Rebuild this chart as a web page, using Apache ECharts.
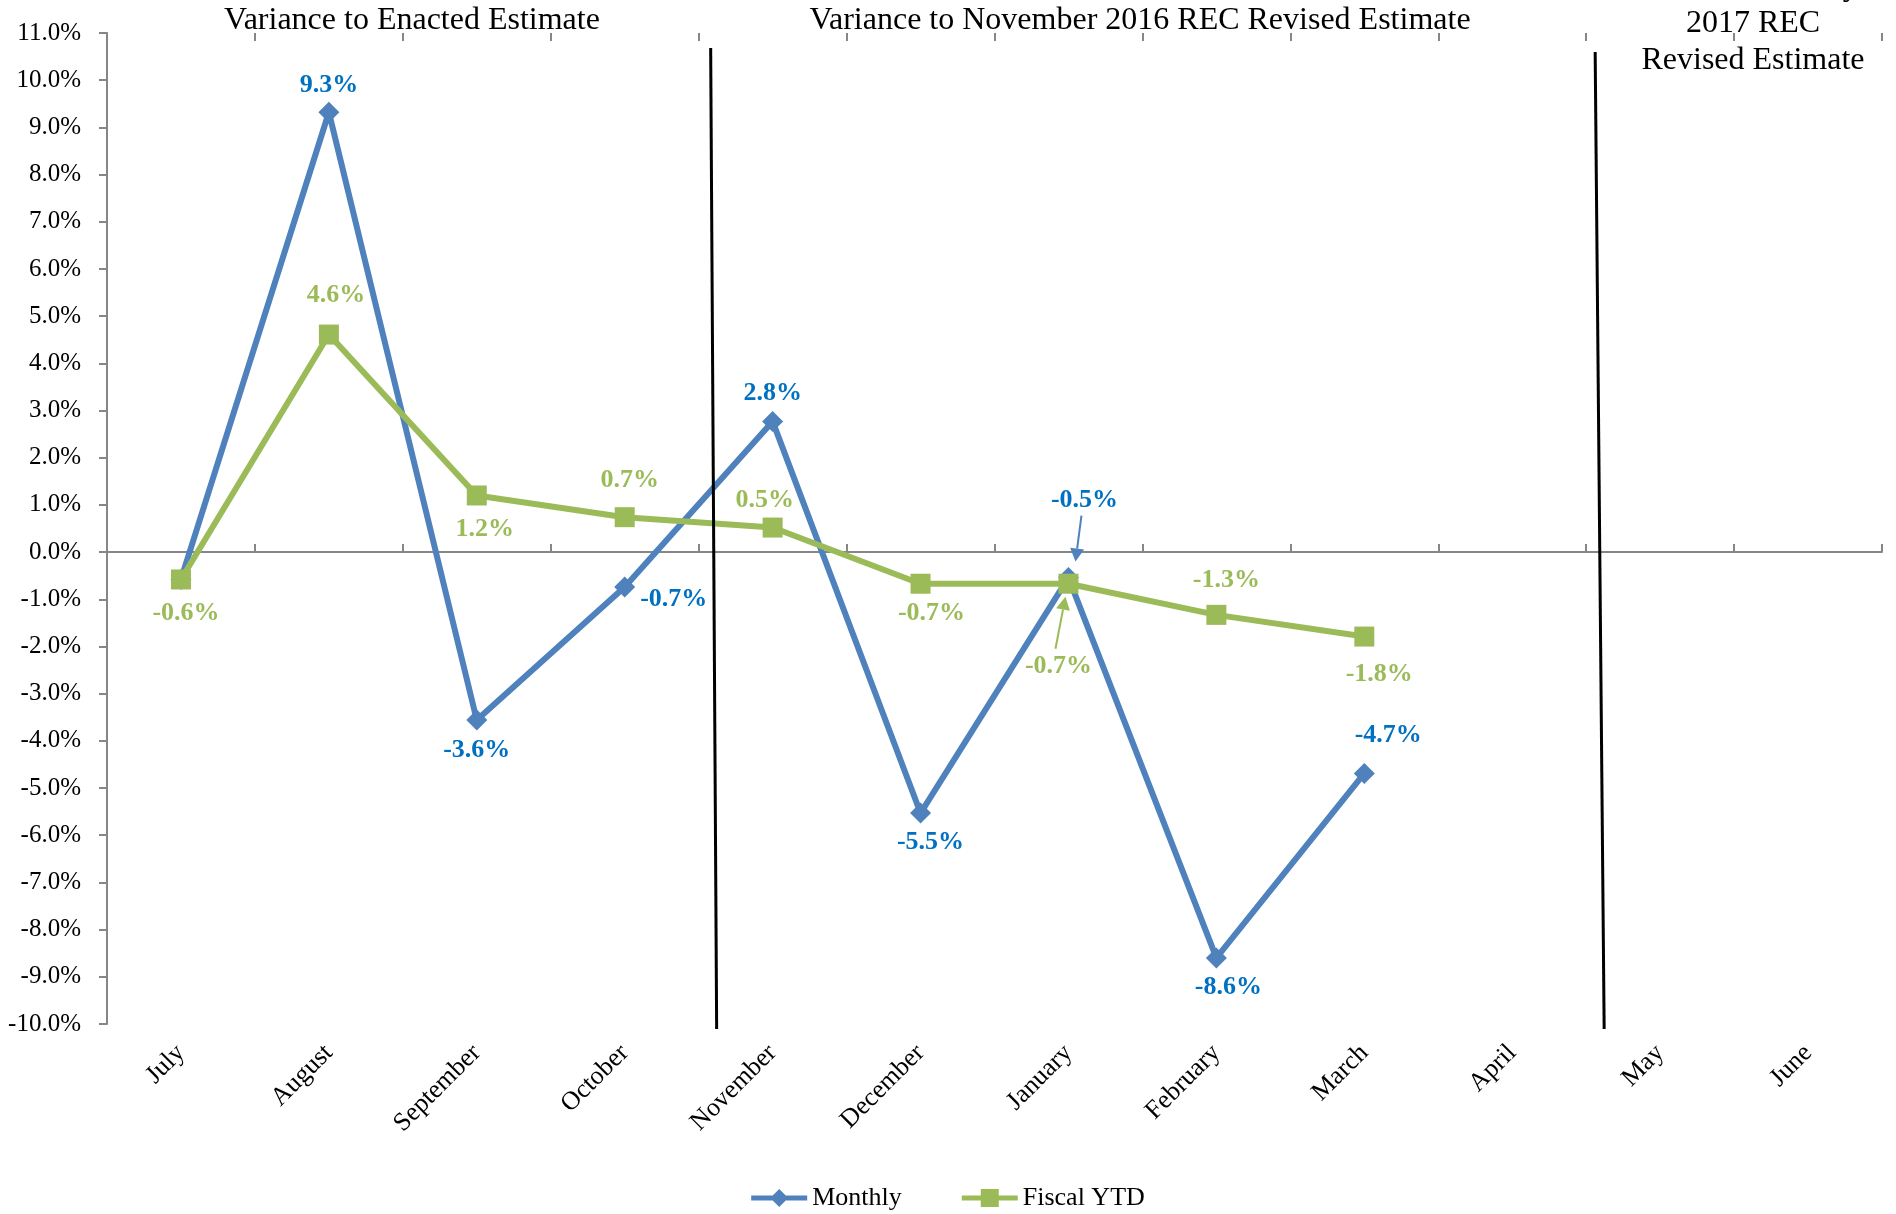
<!DOCTYPE html>
<html><head><meta charset="utf-8">
<script src="https://cdn.jsdelivr.net/npm/echarts@6/dist/echarts.min.js"></script>
<style>html,body{margin:0;padding:0;background:#fff}#chart{width:1896px;height:1214px}</style>
</head><body><div id="chart"></div>
<script>
// ---- data ----
const months = ['July','August','September','October','November','December','January','February','March','April','May','June'];
const monthly = [-0.58, 9.32, -3.56, -0.74, 2.77, -5.53, -0.54, -8.60, -4.69, null, null, null];
const fiscalYTD = [-0.58, 4.61, 1.20, 0.74, 0.52, -0.67, -0.67, -1.33, -1.79, null, null, null];
const yMin = -10, yMax = 11, yInterval = 1;
const sectionTitles = ['Variance to Enacted Estimate', 'Variance to November 2016 REC Revised Estimate'];
const lastSectionTitle = ['Variance to May', '2017 REC', 'Revised Estimate'];
const seriesNames = ['Monthly', 'Fiscal YTD'];

// ---- styling / layout (not data) ----
const FONT = '"Liberation Serif", "Times New Roman", serif';
const BLUE = '#4F81BD', GREEN = '#9BBB59', BLUE_LABEL = '#0070C0', GRID_GRAY = '#868686';
const monthlyLabelOffset = [null, [0,-27], [0,30], [49,12], [0,-28], [10,29], [16,-77], [12,29], [24,-38]];
const fiscalLabelOffset = [[5,34], [7,-39], [8,34], [5,-37], [-8,-27], [11,30], [-10,83], [10,-35], [15,38]];
const fmt = v => v.toFixed(1) + '%';
const ICON_MONTHLY = 'path://M0,6.5L21.5,6.5L28,0L34.5,6.5L56,6.5L56,11.5L34.5,11.5L28,18L21.5,11.5L0,11.5Z';
const ICON_FISCAL = 'path://M0,6.5L19,6.5L19,0L37,0L37,6.5L56,6.5L56,11.5L37,11.5L37,18L19,18L19,11.5L0,11.5Z';

function buildData(vals, offsets) {
  return vals.map((v, i) => {
    if (v === null) return null;
    const off = offsets[i];
    if (!off) return { value: v, label: { show: false } };
    return { value: v, label: { show: true, offset: off } };
  });
}

const chart = echarts.init(document.getElementById('chart'));
const axisStyle = { color: GRID_GRAY, width: 2 };
const option = {
  animation: false,
  backgroundColor: '#fff',
  grid: { left: 107, right: 14, top: 33, bottom: 190, containLabel: false },
  xAxis: [
    { type: 'category', data: months, boundaryGap: true, position: 'bottom',
      axisLine: { show: false, onZero: false }, axisTick: { show: false },
      axisLabel: { rotate: 45, margin: 25, fontSize: 26, fontFamily: FONT, color: '#000', interval: 0 } },
    { type: 'category', data: months, boundaryGap: true,
      axisLine: { show: true, onZero: true, lineStyle: axisStyle },
      axisTick: { show: true, length: 8, lineStyle: axisStyle, interval: 0 },
      axisLabel: { show: false } },
    { type: 'category', data: months, boundaryGap: true,
      axisLine: { show: false, onZero: true },
      axisTick: { show: true, inside: true, length: 8, lineStyle: axisStyle, interval: 0 },
      axisLabel: { show: false } }
  ],
  yAxis: {
    type: 'value', min: yMin, max: yMax, interval: yInterval,
    axisLine: { show: true, lineStyle: axisStyle },
    axisTick: { show: true, length: 8, lineStyle: axisStyle },
    splitLine: { show: false },
    axisLabel: { formatter: v => fmt(v), fontSize: 25, fontFamily: FONT, color: '#000', margin: 26 }
  },
  legend: {
    data: [{ name: seriesNames[0], icon: ICON_MONTHLY }, { name: seriesNames[1], icon: ICON_FISCAL }],
    top: 1180, left: 'center', itemWidth: 56, itemHeight: 18, itemGap: 60,
    textStyle: { fontSize: 26, fontFamily: FONT, color: '#000' }
  },
  series: [
    { name: seriesNames[0], type: 'line', xAxisIndex: 0, data: buildData(monthly, monthlyLabelOffset),
      symbol: 'diamond', symbolSize: 21, connectNulls: false,
      lineStyle: { color: BLUE, width: 6 }, itemStyle: { color: BLUE },
      label: { show: true, position: 'inside', formatter: p => fmt(p.value),
               fontFamily: FONT, fontWeight: 'bold', fontSize: 26, color: BLUE_LABEL },
      z: 3 },
    { name: seriesNames[1], type: 'line', xAxisIndex: 0, data: buildData(fiscalYTD, fiscalLabelOffset),
      symbol: 'rect', symbolSize: 20, connectNulls: false,
      lineStyle: { color: GREEN, width: 6 }, itemStyle: { color: GREEN },
      label: { show: true, position: 'inside', formatter: p => fmt(p.value),
               fontFamily: FONT, fontWeight: 'bold', fontSize: 26, color: GREEN },
      z: 4 }
  ]
};
chart.setOption(option);

// ---- annotations computed from the axes ----
const px = (i, v) => chart.convertToPixel({ xAxisIndex: 0, yAxisIndex: 0 }, [i, v]);
const graphics = [];

// section separators between October/November and April/May
const sepAfter = [3, 9];
const sepOffsets = [[12, 18, 15], [9, 18, 19]];
sepAfter.forEach((idx, k) => {
  const a = px(idx, 0), b = px(idx + 1, 0);
  const mid = (a[0] + b[0]) / 2;
  const top = px(idx, yMax)[1] + sepOffsets[k][2];
  const bot = px(idx, yMin)[1] + 5;
  graphics.push({ type: 'line', shape: { x1: mid + sepOffsets[k][0], y1: top, x2: mid + sepOffsets[k][1], y2: bot },
    style: { stroke: '#000', lineWidth: 3 }, z: 10 });
});

// section titles
const titleStyle = { fontSize: 32, fontFamily: FONT, fill: '#000', textAlign: 'center', textVerticalAlign: 'middle' };
graphics.push({ type: 'text', x: 412, y: 21, style: Object.assign({ text: sectionTitles[0] }, titleStyle) });
graphics.push({ type: 'text', x: 1140, y: 21, style: Object.assign({ text: sectionTitles[1] }, titleStyle) });
lastSectionTitle.forEach((t, i) => {
  graphics.push({ type: 'text', x: 1753, y: -13 + 37 * i, style: Object.assign({ text: t }, titleStyle) });
});

// leader arrows for January labels
function arrow(p, s, e, color) {
  const x1 = p[0] + s[0], y1 = p[1] + s[1], x2 = p[0] + e[0], y2 = p[1] + e[1];
  const dx = x2 - x1, dy = y2 - y1, L = Math.hypot(dx, dy);
  const ux = dx / L, uy = dy / L, hl = 13, hw = 7;
  const bx = x2 - ux * hl, by = y2 - uy * hl;
  graphics.push({ type: 'line', shape: { x1, y1, x2: bx, y2: by }, style: { stroke: color, lineWidth: 2 }, z: 20 });
  graphics.push({ type: 'polygon', shape: { points: [[x2, y2], [bx - uy * hw, by + ux * hw], [bx + uy * hw, by - ux * hw]] },
    style: { fill: color }, z: 20 });
}
arrow(px(6, monthly[6]), [13, -62], [7, -16], BLUE);
arrow(px(6, fiscalYTD[6]), [-13, 65], [-3, 13], GREEN);

chart.setOption({ graphic: graphics });
</script>
</body></html>
